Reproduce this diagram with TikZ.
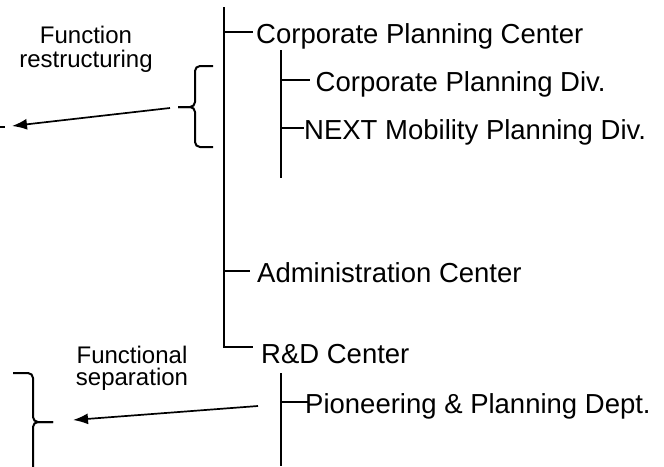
\documentclass[tikz,border=0pt]{standalone}
\usepackage{fontspec}
\setmainfont{Liberation Sans}
\usetikzlibrary{arrows.meta}

\begin{document}
\begin{tikzpicture}[x=1pt, y=-1pt,
    line/.style={line width=1.5pt},
    unit/.style={anchor=west, inner xsep=0pt, inner ysep=0pt,
      text height=22pt, text depth=0pt, font=\fontsize{27.5}{33}\selectfont},
    note/.style={anchor=north, inner sep=0pt, align=center},
    brace/.style={line width=2pt, rounded corners=5pt},
    flow/.style={line width=1.7pt, -{Latex[length=15pt,width=11pt]}}
  ]
  \useasboundingbox (0,0) rectangle (664,466);

  % Main trunk, ending in the R&D elbow
  \coordinate (top) at (224,7);
  \coordinate (rdc) at (253,347);
  \draw[line] (top) |- (rdc);

  % Centers
  \node[unit, inner xsep=3pt] (cpc) at (253,32) {Corporate Planning Center};
  \node[unit, inner xsep=7pt] (adm) at (250,271) {Administration Center};
  \node[anchor=base west, inner sep=0pt, font=\fontsize{27.5}{33}\selectfont]
    (rd) at (261,363) {R\&D Center};
  \draw[line] (top |- cpc.west) -- (cpc.west);
  \draw[line] (top |- adm.west) -- (adm.west);

  % Divisions under the Corporate Planning Center
  \coordinate (cps) at (281,50);
  \coordinate (cpe) at (281,178);
  \draw[line] (cps) -- (cpe);
  \node[unit, inner xsep=5.5pt] (cpd) at (310,80) {Corporate Planning Div.};
  \node[unit] (nmp) at (304,128) {NEXT Mobility Planning Div.};
  \draw[line] (cps |- cpd.west) -- (cpd.west);
  \draw[line] (cps |- nmp.west) -- (nmp.west);

  % Department under the R&D Center
  \coordinate (rds) at (281,373);
  \coordinate (rde) at (281,466);
  \draw[line] (rds) -- (rde);
  \node[unit] (pio) at (305,402) {Pioneering \& Planning Dept.};
  \draw[line] (rds |- pio.west) -- ([xshift=3pt]pio.west);

  % Function restructuring
  \node[note, font=\fontsize{24}{24}\selectfont] (fr) at (86,26) {Function\\restructuring};
  \draw[brace] (213,66) -- (195,66) -- (195,107) -- (178,107);
  \draw[brace] (178,107) -- (195,107) -- (195,147) -- (213,147);
  \coordinate (fra) at (170,108);
  \coordinate (frt) at (12,126);
  \draw[flow] (fra) -- (frt);
  \draw[line] (0,127) -- (5,127);

  % Functional separation
  \node[note, font=\fontsize{24}{22}\selectfont] (fs) at (132,346) {Functional\\separation};
  \draw[brace] (13,373) -- (33,373) -- (33,422) -- (53,422);
  \draw[brace] (53,422) -- (33,422) -- (33,470);
  \coordinate (fsa) at (258,406);
  \coordinate (fst) at (73,420);
  \draw[flow] (fsa) -- (fst);

\end{tikzpicture}
\end{document}
